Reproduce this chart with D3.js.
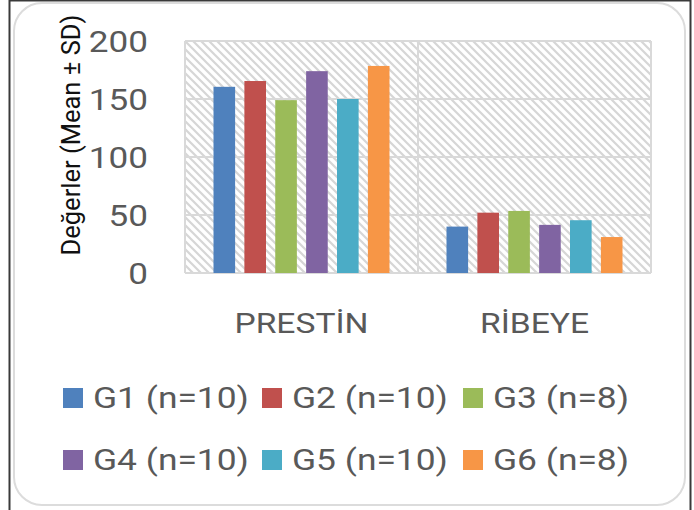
<!DOCTYPE html>
<html><head><meta charset="utf-8">
<script src="https://cdn.jsdelivr.net/npm/d3@7"></script>
<style>html,body{margin:0;padding:0;background:#fff;}svg{display:block;}</style>
</head><body>
<script>
const categories = ["PRESTİN", "RİBEYE"];
const seriesNames = ["G1 (n=10)", "G2 (n=10)", "G3 (n=8)", "G4 (n=10)", "G5 (n=10)", "G6 (n=8)"];
const seriesColors = ["#4f81bd", "#c0504d", "#9bbb59", "#8064a2", "#4bacc6", "#f79646"];
const prestinValues = [160.5, 165.5, 149, 174, 150, 178.5];
const ribeyeValues = [40, 52, 53.5, 41.5, 45.5, 31];
const yTicks = [0, 50, 100, 150, 200];
const yLabel = "Değerler (Mean ± SD)";

(function(){
const values = [prestinValues, ribeyeValues];
const W = 694, H = 510;
const svg = d3.select("body").append("svg").attr("width", W).attr("height", H);

// frame
svg.append("rect").attr("x",0).attr("y",0).attr("width",W).attr("height",H).attr("fill","#fff");
svg.append("path").attr("d","M9.5,510 V0.5 H690.5 V510").attr("fill","none").attr("stroke","#3a3a3a").attr("stroke-width",2);
svg.append("rect").attr("x",14).attr("y",3).attr("width",671).attr("height",502).attr("rx",28).attr("ry",28)
  .attr("fill","#fff").attr("stroke","#dcdcdc").attr("stroke-width",2);

// hatch pattern
const defs = svg.append("defs");
const pat = defs.append("pattern").attr("id","hatch").attr("patternUnits","userSpaceOnUse").attr("width",8).attr("height",8);
pat.append("rect").attr("width",8).attr("height",8).attr("fill","#fff");
pat.append("path").attr("d","M-2,-2 L10,10 M-2,6 L2,10 M6,-2 L10,2").attr("stroke","#d6d6d6").attr("stroke-width",2.2);

const pLeft = 185, pRight = 651, pTop = 41, pBottom = 273;
const y = d3.scaleLinear().domain([0,200]).range([pBottom, pTop]);
const x0 = d3.scaleBand().domain(categories).range([pLeft, pRight]).paddingInner(0).paddingOuter(0);
const x1 = d3.scaleBand().domain(seriesNames).range([28.5, x0.bandwidth()-28.5]).paddingInner(0.3);

svg.append("rect").attr("x",pLeft).attr("y",pTop).attr("width",pRight-pLeft).attr("height",pBottom-pTop).attr("fill","url(#hatch)");

// gridlines
const grid = svg.append("g");
grid.selectAll("line.h").data(yTicks).join("line").attr("class","h")
  .attr("x1",pLeft).attr("x2",pRight).attr("y1",d=>y(d)).attr("y2",d=>y(d))
  .attr("stroke","#d9d9d9").attr("stroke-width",2);
grid.selectAll("line.v").data([pLeft, x0(categories[1]), pRight]).join("line").attr("class","v")
  .attr("x1",d=>d).attr("x2",d=>d).attr("y1",pTop).attr("y2",pBottom)
  .attr("stroke","#d9d9d9").attr("stroke-width",2);

// bars
const groups = svg.append("g").selectAll("g").data(categories).join("g")
  .attr("transform", c => `translate(${x0(c)},0)`);
groups.selectAll("rect").data((c,i)=>values[i].map((v,j)=>({v, s:seriesNames[j], color:seriesColors[j]})))
  .join("rect")
  .attr("x", d=>x1(d.s)).attr("width", x1.bandwidth())
  .attr("y", d=>y(d.v)).attr("height", d=>y(0)-y(d.v))
  .attr("fill", d=>d.color);

const SX = 1.18;
const font = "Roboto, 'Noto Sans', sans-serif";
// y tick labels
svg.append("g").selectAll("text").data(yTicks).join("text")
  .attr("transform", d=>`translate(148,${y(d)+11}) scale(1.17,1)`)
  .attr("text-anchor","end").attr("font-family",font).attr("font-size",30).attr("fill","#595959")
  .text(d=>d);

// category labels
svg.append("g").selectAll("text").data(categories).join("text")
  .attr("transform", c=>`translate(${x0(c)+x0.bandwidth()/2},333) scale(1.2,1)`)
  .attr("text-anchor","middle").attr("font-family",font).attr("font-size",28).attr("fill","#595959")
  .text(c=>c);

// y label
svg.append("text").attr("transform","translate(80,135) rotate(-90)")
  .attr("text-anchor","middle").attr("font-family",font).attr("font-size",25.5).attr("fill","#111")
  .text(yLabel);

// legend
const legCols = [63, 262, 463], legRows = [388, 450];
const leg = svg.append("g").selectAll("g").data(seriesNames).join("g")
  .attr("transform",(d,i)=>`translate(${legCols[i%3]},${legRows[Math.floor(i/3)]})`);
leg.append("rect").attr("width",20).attr("height",20).attr("fill",(d,i)=>seriesColors[i]);
leg.append("text").attr("transform",`translate(30,19.5) scale(${SX},1)`)
  .attr("font-family",font).attr("font-size",30).attr("fill","#595959").text(d=>d);
})();
</script>
</body></html>
